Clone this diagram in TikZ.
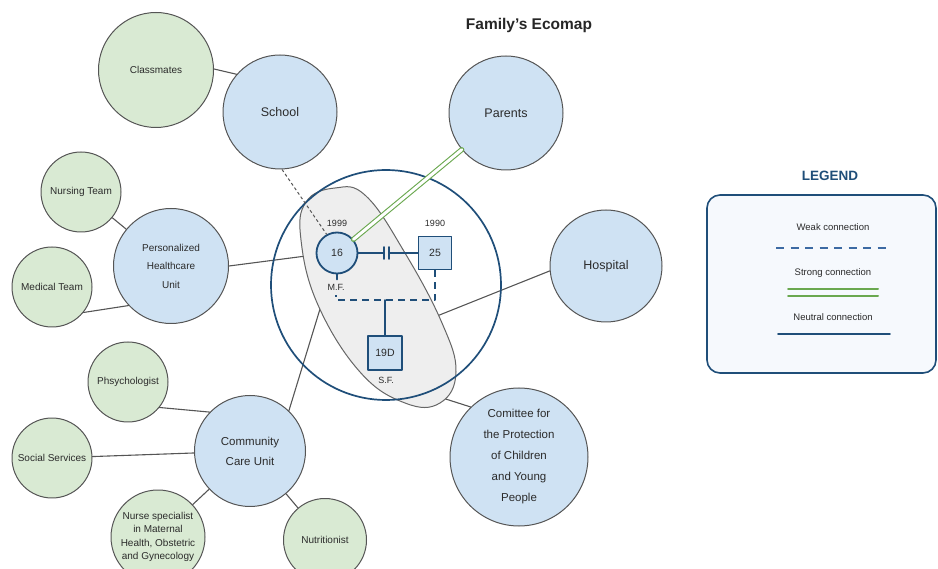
\documentclass[tikz,border=0pt]{standalone}
\usepackage{fontspec}
\setmainfont{Liberation Sans}
\definecolor{agencyblue}{HTML}{CFE2F3}
\definecolor{supportgreen}{HTML}{D9EAD3}
\definecolor{edgegray}{HTML}{555555}
\definecolor{textgray}{HTML}{2B2B2B}
\definecolor{famblue}{HTML}{1F4E79}
\definecolor{famgray}{HTML}{EEEEEE}
\definecolor{strongreen}{HTML}{6AA84F}
\definecolor{legendfill}{HTML}{F6F9FD}
\definecolor{legendblue}{HTML}{3C6AA3}

\begin{document}
\begin{tikzpicture}[line cap=round,line join=round,x=1pt,y=-1pt,
    txt/.style={text=textgray,inner sep=0pt,align=center},
    agency/.style={circle,draw=edgegray,line width=1pt,fill=agencyblue,inner sep=0pt,text=textgray,align=center,font=\fontsize{12.5}{15}\selectfont},
    support/.style={agency,fill=supportgreen,font=\fontsize{10}{12}\selectfont},
    member/.style={draw=famblue,line width=1.8pt,fill=agencyblue,inner sep=0pt,text=textgray,font=\fontsize{10.5}{12}\selectfont},
    neutralrel/.style={draw=edgegray,line width=1.1pt},
    schoolrel/.style={draw=edgegray,line width=1pt,line cap=butt,dash pattern=on 3pt off 2.5pt},
    weakrel/.style={draw=famblue,line width=1.8pt,line cap=butt,dash pattern=on 7pt off 5pt},
    strongrel/.style={draw=strongreen,double=white,double distance=3pt,line width=1.1pt},
    famline/.style={draw=famblue,line width=1.8pt}]
    \useasboundingbox (0,0) rectangle (938,569);
    \node[txt,font=\bfseries\fontsize{15.5}{18}\selectfont,text=black!85] (title) at (529,25) {Family's Ecomap};

    \node[support,minimum size=115pt] (classmates) at (156,70) {Classmates};
    \node[agency,minimum size=114pt] (school) at (280,112) {School};
    \node[agency,minimum size=114pt] (parents) at (506,113) {Parents};
    \node[agency,minimum size=112pt] (hospital) at (606,266) {Hospital};
    \node[agency,minimum size=138pt,font=\fontsize{11.5}{21}\selectfont] (committee) at (519,457) {Comittee for\\the Protection\\of Children\\and Young\\People};
    \node[agency,minimum size=115pt,font=\fontsize{10}{18.5}\selectfont] (phu) at (171,266) {Personalized\\Healthcare\\Unit};
    \node[support,minimum size=80pt] (nursing) at (81,192) {Nursing Team};
    \node[support,minimum size=80pt] (medical) at (52,287) {Medical Team};
    \node[agency,minimum size=111pt,font=\fontsize{11.5}{20}\selectfont] (ccu) at (250,451) {Community\\Care Unit};
    \node[support,minimum size=80pt] (psych) at (128,382) {Phsychologist};
    \node[support,minimum size=80pt] (social) at (52,458) {Social Services};
    \node[support,minimum size=94pt,font=\fontsize{10}{13.5}\selectfont] (nursespec) at (158,537) {Nurse specialist\\in Maternal\\Health, Obstetric\\and Gynecology};
    \node[support,minimum size=83pt] (nutri) at (325,540) {Nutritionist};

    \coordinate (famL) at (306,256);
    \coordinate (famBL) at (320,309);
    \coordinate (famR) at (432,318);
    \coordinate (famB) at (430,394);

    \draw[neutralrel] (classmates.1) -- (school.139);
    \draw[neutralrel] (nursing) -- (phu);
    \draw[neutralrel] (medical.-39) -- (phu.-137);
    \draw[neutralrel] (phu.0) -- (famL);
    \draw[neutralrel] (psych.-39) -- (ccu.136);
    \draw[neutralrel] (social) -- (ccu);
    \draw[neutralrel] (nursespec) -- (ccu);
    \draw[neutralrel] (nutri) -- (ccu);
    \draw[neutralrel] (ccu.46) -- (famBL);
    \draw[neutralrel] (hospital.-175) -- (famR);
    \draw[neutralrel] (committee.134) -- (famB);

    \draw[fill=famgray,draw=gray!80!black,line width=1pt] plot[smooth cycle,tension=0.7] coordinates {(306,202) (335,188) (366,196) (405,253) (442,323) (456,372) (440,403) (405,403) (360,372) (318,305) (301,240)};
    \node[circle,draw=famblue,line width=1.7pt,minimum size=230pt,inner sep=0pt] (home) at (386,285) {};

    \node[member,circle,minimum size=41pt] (f16) at (337,253) {16};
    \node[member,minimum size=33pt] (f25) at (435,253) {25};
    \node[member,minimum size=34pt] (f19) at (385,353) {19D};
    \node[txt,font=\fontsize{9}{11}\selectfont] (y16) at (337,223) {1999};
    \node[txt,font=\fontsize{9}{11}\selectfont] (y25) at (435,223) {1990};
    \node[txt,font=\fontsize{9}{11}\selectfont] (mf) at (336,287) {M.F.};
    \node[txt,font=\fontsize{9}{11}\selectfont] (sf) at (386,380) {S.F.};

    \draw[schoolrel] (school.-88) -- (f16.119);
    \draw[strongrel] (parents) -- (f16);

    \coordinate (cut1) at (384,253);
    \coordinate (cut2) at (389,253);
    \draw[famline] (f16) -- (cut1);
    \draw[famline] (cut2) -- (f25);
    \foreach \x in {384,389}
    \draw[famline] (\x,247) -- (\x,259);
    \draw[famline] (f16.south) -- ++(0,5);
    \coordinate (kid) at (385,300);
    \coordinate (mfend) at (336,295);
    \draw[weakrel] (f25.south) |- (kid) -| (mfend);
    \draw[famline] (kid) -- (f19.north);

    \node[txt,font=\bfseries\fontsize{13.5}{16}\selectfont,text=famblue] (legendtitle) at (830,176) {LEGEND};
    \node[draw=famblue,line width=1.6pt,fill=legendfill,rounded corners=13pt,minimum width=229pt,minimum height=178pt] (legend) at (821.5,284) {};
    \node[txt,font=\fontsize{9.5}{12}\selectfont] (weaktxt) at (833,227) {Weak connection};
    \node[txt,font=\fontsize{9.5}{12}\selectfont] (strongtxt) at (833,273) {Strong connection};
    \node[txt,font=\fontsize{9.5}{12}\selectfont] (neutraltxt) at (833,317) {Neutral connection};
    \draw[weakrel,draw=legendblue,dash pattern=on 8pt off 6.5pt] (776,248) -- (888,248);
    \draw[strongreen,line width=2pt] (788,289) -- (878,289);
    \draw[strongreen,line width=2pt] (788,296) -- (878,296);
    \draw[famline] (778,334) -- (890,334);
\end{tikzpicture}
\end{document}
